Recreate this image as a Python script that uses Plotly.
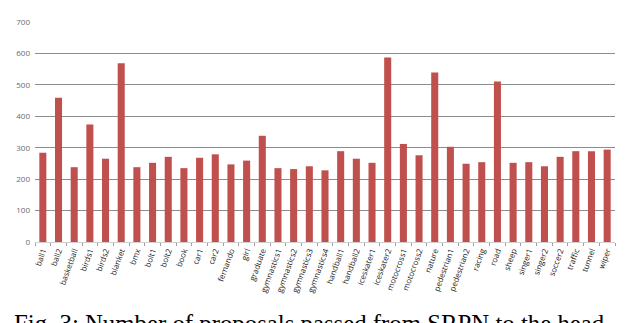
import plotly.graph_objects as go

# sequences and number of proposals per sequence
sequences = ["ball1", "ball2", "basketball", "birds1", "birds2", "blanket", "bmx", "bolt1", "bolt2",
             "book", "car1", "car2", "fernando", "girl", "graduate", "gymnastics1", "gymnastics2",
             "gymnastics3", "gymnastics4", "handball1", "handball2", "iceskater1", "iceskater2",
             "motocross1", "motocross2", "nature", "pedestrian1", "pedestrian2", "racing", "road",
             "sheep", "singer1", "singer2", "soccer2", "traffic", "tunnel", "wiper"]
proposals = [284, 459, 238, 374, 265, 569, 238, 252, 271,
             235, 268, 279, 247, 259, 338, 235, 232,
             241, 228, 289, 265, 252, 587,
             312, 276, 539, 303, 249, 254, 511,
             252, 254, 241, 271, 289, 289, 294]
y_ticks = [0, 100, 200, 300, 400, 500, 600, 700]

caption = "Fig. 3: Number of proposals passed from SRPN to the head"

fig = go.Figure()
fig.add_trace(go.Bar(x=sequences, y=proposals, marker=dict(color="#c0504d", line=dict(width=0)),
                     width=0.45))

fig.update_layout(
    width=640, height=323,
    margin=dict(l=25, r=33, t=8, b=89),
    paper_bgcolor="white", plot_bgcolor="white",
    showlegend=False, bargap=0.55,
    font=dict(family="Open Sans", color="#404040"),
)
fig.update_xaxes(type="category", tickangle=-70, tickfont=dict(size=8, color="#222222"),
                 ticks="outside", tickson="boundaries", ticklen=3, tickcolor="#a0a0a0",
                 showline=True, linecolor="#d0d0d0", linewidth=1, showgrid=False)
fig.update_yaxes(range=[0, 700], tickvals=y_ticks, tickfont=dict(size=8, color="#6a6a6a"),
                 showgrid=True, gridcolor="#8c8c8c", gridwidth=1.2, zeroline=False,
                 showline=False, ticks="", ticklabelstandoff=4)

# caption of the figure, sitting at the bottom edge as in the paper crop
fig.add_annotation(text=caption, xref="paper", yref="paper", x=-0.039, y=-0.3,
                   xanchor="left", yanchor="top", showarrow=False,
                   font=dict(family="Liberation Serif", size=24.8, color="black"))

fig.write_html("out.html")
